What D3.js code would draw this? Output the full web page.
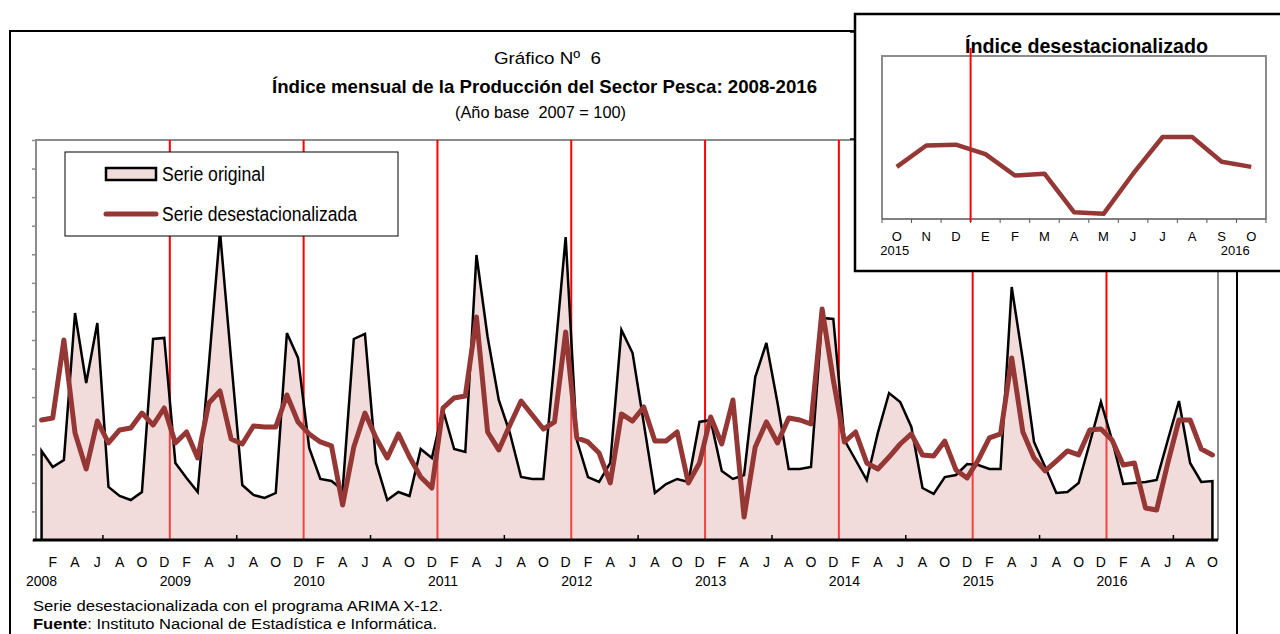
<!DOCTYPE html>
<html><head><meta charset="utf-8">
<script src="https://cdn.jsdelivr.net/npm/d3@7"></script>
<style>
html,body{margin:0;padding:0;background:#fff;}
svg{display:block;}
text{white-space:pre;}
</style></head>
<body>
<svg id="chart" width="1280" height="634"></svg>
<script>
// ---------- DATA ----------
const monthLetters = ["E","F","M","A","M","J","J","A","S","O","N","D"];
const yearLabels = ["2008","2009","2010","2011","2012","2013","2014","2015","2016"];
// Serie original (Ene 2008 - Oct 2016)
const serieOriginal = [
 77.9,63.9,70.0,198.6,137.4,189.9,46.4,38.5,35.0,42.0,175.9,176.8,
 67.4,54.3,42.0,153.1,270.0,157.5,48.1,39.4,36.8,41.1,181.1,159.3,
 80.5,53.4,51.6,43.8,175.9,180.3,67.4,35.0,42.0,38.5,79.6,71.8,
 113.8,79.6,77.0,249.4,177.6,122.5,93.6,55.1,53.4,53.4,157.5,265.1,
 87.5,55.1,50.8,67.4,183.8,163.6,102.4,41.1,49.0,53.4,50.8,103.3,
 105.0,60.4,53.4,56.9,142.6,172.4,119.9,62.1,62.1,63.9,194.3,193.4,
 87.5,70.0,52.5,94.0,128.6,120.8,98.9,45.5,40.3,55.1,56.9,66.5,
 65.6,62.1,62.1,221.4,157.5,85.8,63.9,41.1,42.0,49.9,84.9,120.8,
 87.5,49.0,49.9,50.8,52.5,87.5,121.6,67.4,50.8,51.6
];
// Serie desestacionalizada
const serieDesest = [
 105.0,106.8,175.0,93.6,62.1,104.1,84.9,96.3,98.0,111.1,100.6,115.5,
 84.9,94.5,71.8,119.9,130.4,88.4,84.0,99.8,98.9,98.9,126.9,103.3,
 92.8,85.8,82.3,30.6,81.4,111.1,89.3,71.8,92.8,72.6,55.1,45.5,
 115.5,124.3,126.0,195.1,94.5,78.8,100.6,121.6,109.4,97.1,103.3,182.0,
 89.3,85.8,76.1,49.9,110.3,104.1,116.4,86.6,86.6,94.5,49.9,67.4,
 107.6,84.0,122.5,20.1,81.4,103.3,84.9,106.8,105.0,101.5,202.1,140.0,
 85.8,94.5,67.4,62.1,72.6,84.0,92.8,74.4,73.5,86.6,61.3,54.3,
 70.0,89.3,92.8,159.3,94.5,71.8,60.4,69.1,77.9,74.4,96.3,97.1,
 87.5,65.6,67.4,28.0,26.3,67.4,105.0,105.0,79.6,74.4
];
// Recuadro: Oct 2015 - Oct 2016
const insetStart = 93;
const insetLabels = ["O","N","D","E","F","M","A","M","J","J","A","S","O"];
const insetYears = ["2015","2016"];

const titleLine1 = "Gráfico Nº  6";
const titleLine2 = "Índice mensual de la Producción del Sector Pesca: 2008-2016";
const titleLine3 = "(Año base  2007 = 100)";
const legendLabels = ["Serie original","Serie desestacionalizada"];
const insetTitle = "Índice desestacionalizado";
const note1 = "Serie desestacionalizada con el programa ARIMA X-12.";
const noteSourceBold = "Fuente";
const noteSourceRest = ": Instituto Nacional de Estadística e Informática.";

// ---------- DRAW ----------
const svg = d3.select("#chart");
const NARROW = "'Liberation Sans Narrow','Arial Narrow','Liberation Sans',Arial,sans-serif";
const SANS = "'Liberation Sans',Arial,sans-serif";
const DARKRED = "#953735";

function fitText(sel, len){
  return sel.attr("textLength", len).attr("lengthAdjust","spacingAndGlyphs");
}

const n = serieOriginal.length;
const x = d3.scaleLinear().domain([-0.5, n - 0.5]).range([36, 1218]);
const y = d3.scaleLinear().domain([0, 350]).range([540, 140]);

// outer frame
svg.append("rect").attr("x",10).attr("y",31).attr("width",1227).attr("height",620)
  .attr("fill","#fff").attr("stroke","#000").attr("stroke-width",2);

// titles
fitText(svg.append("text").attr("x",494).attr("y",64)
  .style("font-family",NARROW).style("font-size","17px").text(titleLine1), 107);
fitText(svg.append("text").attr("x",272).attr("y",93)
  .style("font-family",NARROW).style("font-size","19px").style("font-weight","bold").text(titleLine2), 545);
fitText(svg.append("text").attr("x",455).attr("y",118)
  .style("font-family",NARROW).style("font-size","17px").text(titleLine3), 171);

// plot frame (gray)
svg.append("path").attr("d",`M${x.range()[0]},${y(0)}V${y(350)}H${x.range()[1]}V${y(0)}`)
  .attr("fill","none").attr("stroke","#8c8c8c").attr("stroke-width",2);

// y axis ticks (no labels)
const yAxis = d3.axisLeft(y).tickValues(d3.range(0, 351, 25)).tickFormat("").tickSize(4).tickSizeOuter(0);
const gy = svg.append("g").attr("transform",`translate(${x.range()[0]},0)`).call(yAxis);
gy.select(".domain").remove();
gy.selectAll("line").attr("stroke","#8c8c8c").attr("stroke-width",1.5);

// red year separators
const sepIdx = d3.range(12, n, 12).map(i => i - 0.5);
svg.append("g").selectAll("line").data(sepIdx).join("line")
  .attr("x1",d=>x(d)).attr("x2",d=>x(d)).attr("y1",y(350)).attr("y2",y(0))
  .attr("stroke","#ff0000").attr("stroke-width",2);

// area fill (semi-transparent so red lines show through lighter)
const idx = d3.range(n);
const area = d3.area().x(i=>x(i)).y0(y(0)).y1(i=>y(serieOriginal[i]));
svg.append("path").datum(idx).attr("d",area).attr("fill","rgb(222,167,165)").attr("fill-opacity",0.4);

// original outline incl. vertical ends
const outline = "M" + x(0) + "," + y(0) + "L" + idx.map(i=>x(i)+","+y(serieOriginal[i])).join("L") + "L" + x(n-1) + "," + y(0);
svg.append("path").attr("d",outline).attr("fill","none").attr("stroke","#000").attr("stroke-width",2.5).attr("stroke-linejoin","miter");

// deseasonalized
const line = d3.line().x(i=>x(i)).y(i=>y(serieDesest[i]));
svg.append("path").datum(idx).attr("d",line).attr("fill","none").attr("stroke",DARKRED)
  .attr("stroke-width",5).attr("stroke-linejoin","round").attr("stroke-linecap","round");

// bottom axis
svg.append("line").attr("x1",x.range()[0]-3).attr("x2",x.range()[1]).attr("y1",y(0)).attr("y2",y(0))
  .attr("stroke","#000").attr("stroke-width",3);
const tickIdx = d3.range(5.5, n, 12);
svg.append("g").selectAll("line").data(tickIdx).join("line")
  .attr("x1",d=>x(d)).attr("x2",d=>x(d)).attr("y1",y(0)-5).attr("y2",y(0))
  .attr("stroke","#000").attr("stroke-width",1.5);

// month labels (every other month: F A J A O D)
const lblIdx = idx.filter(i => i % 2 === 1);
svg.append("g").selectAll("text").data(lblIdx).join("text")
  .attr("x",i=>x(i)).attr("y",567).attr("text-anchor","middle")
  .style("font-family",SANS).style("font-size","14px")
  .text(i=>monthLetters[i % 12]);
svg.append("g").selectAll("text").data(yearLabels).join("text")
  .attr("x",(d,k)=>x(k*12)).attr("y",586).attr("text-anchor","middle")
  .style("font-family",SANS).style("font-size","14px").text(d=>d);

// notes
fitText(svg.append("text").attr("x",33).attr("y",611).style("font-family",SANS).style("font-size","15.5px").text(note1), 410);
const src = svg.append("text").attr("x",33).attr("y",629).style("font-family",SANS).style("font-size","15.5px");
src.append("tspan").style("font-weight","bold").text(noteSourceBold);
src.append("tspan").text(noteSourceRest);
fitText(src, 404);

// legend
const lg = svg.append("g");
lg.append("rect").attr("x",65).attr("y",152).attr("width",333).attr("height",84)
  .attr("fill","#fff").attr("stroke","#000").attr("stroke-width",1);
lg.append("rect").attr("x",106).attr("y",168).attr("width",50).attr("height",12)
  .attr("fill","#f2dcdb").attr("stroke","#000").attr("stroke-width",2.5);
fitText(lg.append("text").attr("x",162).attr("y",181).style("font-family",NARROW).style("font-size","20px").text(legendLabels[0]), 103);
lg.append("line").attr("x1",106).attr("x2",156).attr("y1",214).attr("y2",214)
  .attr("stroke",DARKRED).attr("stroke-width",5).attr("stroke-linecap","round");
fitText(lg.append("text").attr("x",162).attr("y",221).style("font-family",NARROW).style("font-size","20px").text(legendLabels[1]), 195);

// ---------- INSET ----------
const ins = svg.append("g");
ins.append("rect").attr("x",855).attr("y",14).attr("width",430).attr("height",257)
  .attr("fill","#fff").attr("stroke","#000").attr("stroke-width",2.5);
// small marks left of inset
[32,139].forEach(v=>ins.append("line").attr("x1",850).attr("x2",856).attr("y1",v).attr("y2",v).attr("stroke","#000").attr("stroke-width",1.5));

const insetData = serieDesest.slice(insetStart);
const m = insetData.length;
const xi = d3.scaleLinear().domain([-0.5, m-0.5]).range([882, 1266]);
const yi = d3.scaleLinear().domain([21, 188]).range([219, 56]);

ins.append("path").attr("d",`M${xi.range()[0]},${yi(21)}V${yi(188)}H${xi.range()[1]}V${yi(21)}`)
  .attr("fill","none").attr("stroke","#8c8c8c").attr("stroke-width",2);
ins.append("line").attr("x1",xi.range()[0]).attr("x2",xi.range()[1]).attr("y1",yi(21)).attr("y2",yi(21))
  .attr("stroke","#555").attr("stroke-width",1.5);
ins.append("g").selectAll("line").data(d3.range(0, m+1).map(k=>k-0.5)).join("line")
  .attr("x1",d=>xi(d)).attr("x2",d=>xi(d)).attr("y1",yi(21)).attr("y2",yi(21)+4)
  .attr("stroke","#555").attr("stroke-width",1);

fitText(ins.append("text").attr("x",965).attr("y",53)
  .style("font-family",NARROW).style("font-size","21px").style("font-weight","bold").text(insetTitle), 243);

// red separator Dec/Jan
ins.append("line").attr("x1",xi(2.5)).attr("x2",xi(2.5)).attr("y1",48).attr("y2",222)
  .attr("stroke","#ff0000").attr("stroke-width",2);

const iline = d3.line().x((d,k)=>xi(k)).y(d=>yi(d));
ins.append("path").datum(insetData).attr("d",iline).attr("fill","none").attr("stroke",DARKRED)
  .attr("stroke-width",4.5).attr("stroke-linejoin","round");

ins.append("g").selectAll("text").data(insetLabels).join("text")
  .attr("x",(d,k)=>xi(k)).attr("y",241).attr("text-anchor","middle")
  .style("font-family",SANS).style("font-size","13px").text(d=>d);
ins.append("text").attr("x",xi(0)-2).attr("y",255).attr("text-anchor","middle")
  .style("font-family",SANS).style("font-size","13px").text(insetYears[0]);
ins.append("text").attr("x",xi(m-1)-16).attr("y",255).attr("text-anchor","middle")
  .style("font-family",SANS).style("font-size","13px").text(insetYears[1]);
</script>
</body></html>
